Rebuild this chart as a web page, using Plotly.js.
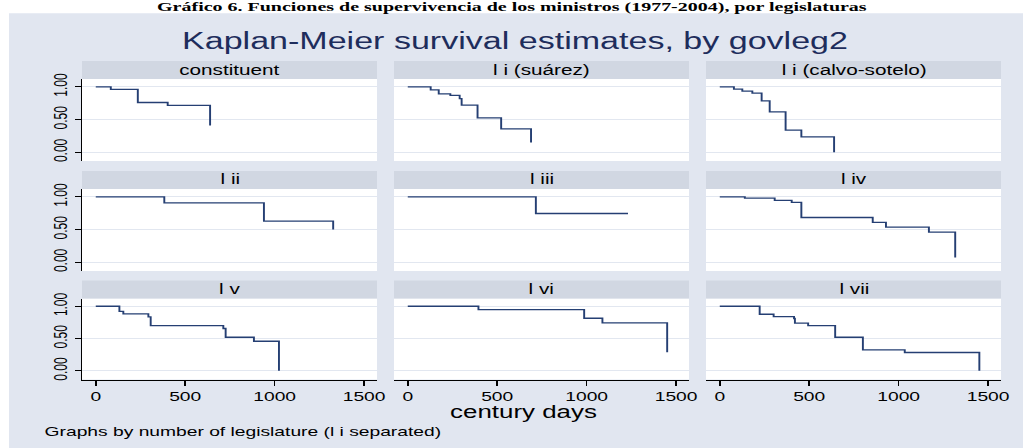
<!DOCTYPE html>
<html>
<head>
<meta charset="utf-8">
<script src="https://cdn.plot.ly/plotly-3.0.1.min.js"></script>
<style>
  html, body { margin: 0; padding: 0; overflow: hidden; background: #ffffff; }
  #wrap { width: 1023px; height: 448px; overflow: hidden; position: relative; }
  #chart { width: 691px; height: 448px; transform-origin: 0 0; }
</style>
</head>
<body>
<div id="wrap"><div id="chart"></div></div>
<script>
// ---------------- data ----------------
const panelLabels = ["constituent", "l i (suárez)", "l i (calvo-sotelo)",
                     "l ii", "l iii", "l iv",
                     "l v", "l vi", "l vii"];

const t_constituent = [0, 84, 235, 402, 639];
const s_constituent = [1, 0.96, 0.76, 0.715, 0.41];

const t_li_suarez = [0, 128, 173, 238, 290, 301, 390, 522, 689];
const s_li_suarez = [1, 0.954, 0.893, 0.868, 0.82, 0.72, 0.525, 0.357, 0.148];

const t_li_calvo = [0, 79, 126, 182, 234, 279, 368, 456, 639];
const s_li_calvo = [1, 0.965, 0.934, 0.903, 0.786, 0.617, 0.337, 0.235, 0.0];

const t_lii = [0, 383, 940, 1327];
const s_lii = [1, 0.908, 0.628, 0.50];

const t_liii = [0, 716, 1231];
const s_liii = [1, 0.745, 0.745];

const t_liv = [0, 140, 307, 402, 456, 855, 929, 1169, 1316];
const s_liv = [1, 0.98, 0.945, 0.914, 0.684, 0.608, 0.536, 0.459, 0.072];

const t_lv = [0, 132, 154, 294, 307, 713, 726, 884, 1024];
const s_lv = [1, 0.922, 0.882, 0.836, 0.70, 0.655, 0.52, 0.458, 0.0];

const t_lvi = [0, 395, 986, 1088, 1450];
const s_lvi = [1, 0.949, 0.814, 0.743, 0.288];

const t_lvii = [0, 223, 301, 415, 420, 494, 645, 800, 1034, 1451];
const s_lvii = [1, 0.876, 0.84, 0.81, 0.737, 0.70, 0.52, 0.325, 0.283, 0.0];

const xTickVals = [0, 500, 1000, 1500];
const xTickText = ["0", "500", "1000", "1500"];
const yTickVals = [0, 0.5, 1];
const yTickText = ["0.00", "0.50", "1.00"];

const headingText = "Gráfico 6. Funciones de supervivencia de los ministros (1977-2004), por legislaturas";
const mainTitle = "Kaplan-Meier survival estimates, by govleg2";
const xAxisTitle = "century days";
const noteText = "Graphs by number of legislature (l i separated)";

const timesList = [t_constituent, t_li_suarez, t_li_calvo, t_lii, t_liii, t_liv, t_lv, t_lvi, t_lvii];
const survList  = [s_constituent, s_li_suarez, s_li_calvo, s_lii, s_liii, s_liv, s_lv, s_lvi, s_lvii];

// ---------------- styling / geometry ----------------
const W = 1023, H = 448;
const BASEW = 691;                 // the reference is horizontally stretched
const SX = W / BASEW;
document.getElementById('chart').style.transform = 'scaleX(' + SX + ')';

const BG = '#e1e6f0', STRIP = '#d1d7e2', GRID = '#e2e7f0', LINE = '#253f73', TITLE = '#1e2d5c';
const SANS = 'Liberation Sans, Arial, Helvetica, sans-serif';
const SERIF = 'Liberation Serif, Times New Roman, serif';

const colX = [[82, 377], [394, 689], [706, 1001]];
const stripTop = [61, 171, 280.5];
const stripH = 18;
const plotBottom = [161, 271, 379.5];
const xRange = [-77, 1572];
const yRange = [-0.135, 1.12];

const px = x => x / W;
const py = y => 1 - y / H;

const traces = [];
const layout = {
  width: BASEW, height: H,
  margin: {l: 0, r: 0, t: 0, b: 0, pad: 0},
  paper_bgcolor: BG,
  plot_bgcolor: '#ffffff',
  showlegend: false,
  font: {family: SANS, color: '#000000'},
  title: {
    text: mainTitle,
    x: px(515), xanchor: 'center', xref: 'paper',
    y: py(41), yanchor: 'middle', yref: 'container',
    font: {family: SANS, size: 23, color: TITLE}
  },
  shapes: [
    {type: 'rect', xref: 'paper', yref: 'paper', x0: 0, x1: 1, y0: py(13.3), y1: 1,
     fillcolor: '#ffffff', line: {width: 0}, layer: 'below'},
    {type: 'rect', xref: 'paper', yref: 'paper', x0: 0, x1: px(9), y0: 0, y1: 1,
     fillcolor: '#ffffff', line: {width: 0}, layer: 'below'}
  ],
  annotations: [
    {text: '<b>' + headingText + '</b>', xref: 'paper', yref: 'paper',
     x: px(512), y: py(6.5), xanchor: 'center', yanchor: 'middle', showarrow: false,
     font: {family: SERIF, size: 13.5, color: '#000000'}},
    {text: xAxisTitle, xref: 'paper', yref: 'paper', x: px(524), y: py(412),
     xanchor: 'center', yanchor: 'middle', showarrow: false,
     font: {family: SANS, size: 17.5, color: '#000000'}},
    {text: noteText, xref: 'paper', yref: 'paper', x: px(42), y: py(431),
     xanchor: 'left', yanchor: 'middle', showarrow: false,
     font: {family: SANS, size: 13, color: '#000000'}}
  ]
};

for (let i = 0; i < 9; i++) {
  const r = Math.floor(i / 3), c = i % 3;
  const sfx = i === 0 ? '' : String(i + 1);
  traces.push({
    type: 'scatter', mode: 'lines',
    x: timesList[i], y: survList[i],
    line: {shape: 'hv', color: LINE, width: 1.3},
    xaxis: 'x' + sfx, yaxis: 'y' + sfx,
    hoverinfo: 'skip', showlegend: false
  });
  const top = stripTop[r] + stripH, bot = plotBottom[r];
  const lastRow = r === 2, firstCol = c === 0;
  layout['xaxis' + sfx] = {
    domain: [px(colX[c][0]), px(colX[c][1])],
    anchor: 'y' + sfx,
    range: xRange, fixedrange: true,
    showgrid: false, zeroline: false,
    showline: lastRow, linecolor: '#000000', linewidth: 1,
    ticks: lastRow ? 'outside' : '', ticklen: 5, tickcolor: '#000000', tickwidth: 1,
    tickvals: xTickVals, ticktext: xTickText,
    showticklabels: lastRow, ticklabelstandoff: 0,
    tickfont: {family: SANS, size: 13, color: '#000000'}
  };
  layout['yaxis' + sfx] = {
    domain: [py(bot), py(top)],
    anchor: 'x' + sfx,
    range: yRange, fixedrange: true,
    showgrid: true, gridcolor: GRID, gridwidth: 1.2, zeroline: false,
    showline: firstCol, linecolor: '#000000', linewidth: 1,
    ticks: firstCol ? 'outside' : '', ticklen: 4, tickcolor: '#000000', tickwidth: 1,
    tickvals: yTickVals, ticktext: yTickText,
    showticklabels: firstCol, tickangle: -90, ticklabelstandoff: 0,
    tickfont: {family: SANS, size: 12, color: '#000000'}
  };
  layout.shapes.push({
    type: 'rect', xref: 'paper', yref: 'paper',
    x0: px(colX[c][0]), x1: px(colX[c][1]),
    y0: py(stripTop[r] + stripH), y1: py(stripTop[r]),
    fillcolor: STRIP, line: {width: 0}, layer: 'below'
  });
  layout.annotations.push({
    text: panelLabels[i], xref: 'paper', yref: 'paper',
    x: px((colX[c][0] + colX[c][1]) / 2), y: py(stripTop[r] + stripH / 2 - 0.5),
    xanchor: 'center', yanchor: 'middle', showarrow: false,
    font: {family: SANS, size: 14, color: '#000000'}
  });
}

Plotly.newPlot('chart', traces, layout, {staticPlot: true, displayModeBar: false, responsive: false});
</script>
</body>
</html>
